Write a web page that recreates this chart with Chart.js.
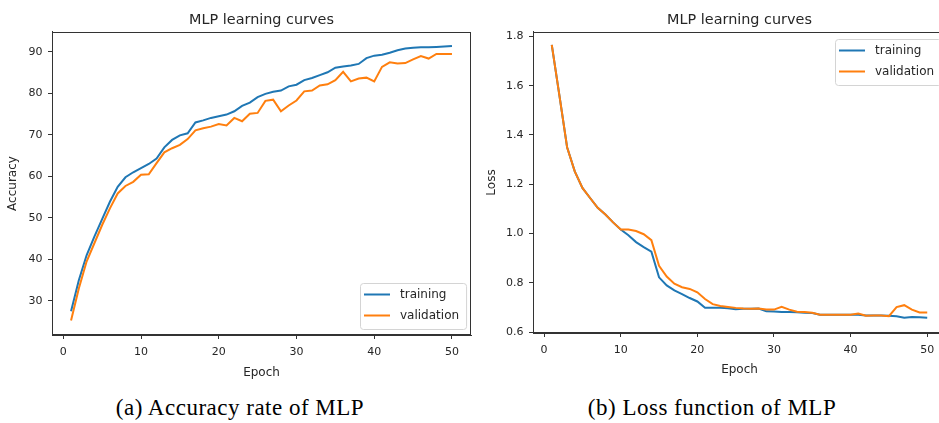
<!DOCTYPE html>
<html>
<head>
<meta charset="utf-8">
<script src="https://cdn.jsdelivr.net/npm/chart.js@4.4.1/dist/chart.umd.min.js"></script>
<style>
  html, body { margin: 0; padding: 0; background: #fff; overflow: hidden; width: 939px; height: 423px; }
  .wrap { position: absolute; top: 0; }
  #accWrap { left: 0; }
  #lossWrap { left: 480px; }
  .caption {
    position: absolute; top: 395px; line-height: 26px;
    font-family: "Liberation Serif", serif; font-size: 23px; letter-spacing: 0.5px;
    color: #000; transform: translateX(-50%); white-space: nowrap;
  }
</style>
</head>
<body>
<div class="wrap" id="accWrap"><canvas id="accChart" width="480" height="390"></canvas></div>
<div class="wrap" id="lossWrap"><canvas id="lossChart" width="476" height="390"></canvas></div>
<div class="caption" style="left:240px">(a) Accuracy rate of MLP</div>
<div class="caption" style="left:712px">(b) Loss function of MLP</div>

<script>
const epochs = [1, 2, 3, 4, 5, 6, 7, 8, 9, 10, 11, 12, 13, 14, 15, 16, 17, 18, 19, 20,
  21, 22, 23, 24, 25, 26, 27, 28, 29, 30, 31, 32, 33, 34, 35, 36, 37, 38, 39, 40,
  41, 42, 43, 44, 45, 46, 47, 48, 49, 50];

const trainAcc = [27.5, 35.0, 41.0, 45.5, 49.7, 53.9, 57.5, 59.8, 61.0, 62.0,
  63.0, 64.3, 67.0, 68.8, 69.9, 70.4, 73.0, 73.5, 74.1, 74.5,
  74.9, 75.7, 77.0, 77.8, 79.1, 79.9, 80.4, 80.7, 81.7, 82.1,
  83.2, 83.7, 84.4, 85.1, 86.2, 86.5, 86.7, 87.1, 88.5, 89.1,
  89.3, 89.8, 90.4, 90.8, 91.0, 91.1, 91.1, 91.2, 91.3, 91.4];
const validAcc = [25.3, 33.0, 39.5, 43.9, 48.3, 52.3, 55.9, 57.7, 58.7, 60.4,
  60.5, 63.2, 65.8, 66.8, 67.6, 69.0, 71.1, 71.6, 72.0, 72.6,
  72.3, 74.1, 73.3, 75.1, 75.3, 78.2, 78.5, 75.7, 77.1, 78.3,
  80.5, 80.7, 81.9, 82.2, 83.2, 85.2, 82.9, 83.6, 83.8, 82.9,
  86.4, 87.5, 87.2, 87.3, 88.2, 89.0, 88.4, 89.5, 89.5, 89.5];

const trainLoss = [1.766, 1.560, 1.350, 1.252, 1.185, 1.144, 1.104, 1.077, 1.045, 1.016,
  0.993, 0.965, 0.945, 0.926, 0.822, 0.789, 0.769, 0.754, 0.738, 0.724,
  0.698, 0.698, 0.698, 0.696, 0.692, 0.694, 0.694, 0.695, 0.684, 0.683,
  0.681, 0.681, 0.680, 0.678, 0.677, 0.670, 0.670, 0.670, 0.670, 0.670,
  0.670, 0.667, 0.667, 0.667, 0.666, 0.664, 0.658, 0.661, 0.660, 0.658];
const validLoss = [1.766, 1.560, 1.350, 1.252, 1.185, 1.144, 1.104, 1.077, 1.045, 1.016,
  1.016, 1.010, 0.997, 0.973, 0.869, 0.825, 0.796, 0.782, 0.775, 0.761,
  0.734, 0.713, 0.706, 0.702, 0.698, 0.695, 0.694, 0.695, 0.691, 0.691,
  0.702, 0.691, 0.682, 0.681, 0.678, 0.670, 0.670, 0.670, 0.670, 0.670,
  0.675, 0.666, 0.667, 0.667, 0.664, 0.701, 0.709, 0.691, 0.679, 0.679];

const epochTicks = [0, 10, 20, 30, 40, 50];
const accTicks = [30, 40, 50, 60, 70, 80, 90];
const lossTicks = [0.6, 0.8, 1.0, 1.2, 1.4, 1.6, 1.8];

const BLUE = "#1f77b4";
const ORANGE = "#ff7f0e";
const INK = "#262626";
const FONT = "DejaVu Sans";

// matplotlib draws spines on all four sides
const frame = {
  id: "frame",
  afterDatasetsDraw(chart) {
    const { ctx, chartArea: a } = chart;
    ctx.save();
    ctx.strokeStyle = "#333";
    ctx.lineWidth = 1;
    ctx.strokeRect(Math.round(a.left) + 0.5, Math.round(a.top) + 0.5,
      Math.round(a.right - a.left) - 1, Math.round(a.bottom - a.top) - 1);
    ctx.restore();
  }
};

// legend box inside the axes, like plt.legend()
const boxLegend = {
  id: "boxLegend",
  afterDraw(chart, args, opts) {
    const { ctx, chartArea: a } = chart;
    const items = chart.data.datasets;
    ctx.save();
    ctx.font = "12px " + FONT;
    const textW = Math.max(...items.map((d) => ctx.measureText(d.label).width));
    const w = 40 + textW + 7;
    const h = 46;
    const x = Math.round(a.right - 5 - w);
    const y = Math.round(opts.corner === "top" ? a.top + 7 : a.bottom - 6.5 - h);
    ctx.beginPath();
    ctx.roundRect(x + 0.5, y + 0.5, w, h, 3);
    ctx.fillStyle = "rgba(255,255,255,0.8)";
    ctx.fill();
    ctx.strokeStyle = "#d4d4d4";
    ctx.lineWidth = 1;
    ctx.stroke();
    items.forEach((d, i) => {
      const cy = y + 11.5 + i * 21;
      ctx.strokeStyle = d.borderColor;
      ctx.lineWidth = 2;
      ctx.beginPath();
      ctx.moveTo(x + 4, cy);
      ctx.lineTo(x + 30, cy);
      ctx.stroke();
      ctx.fillStyle = INK;
      ctx.textBaseline = "middle";
      ctx.fillText(d.label, x + 40, cy);
    });
    ctx.restore();
  }
};

// order: validation (0) is painted last, on top of training, as in matplotlib
const series = (vals, label, color, order) => ({
  label: label,
  data: vals.map((v, i) => ({ x: epochs[i], y: v })),
  borderColor: color,
  backgroundColor: color,
  borderWidth: 2,
  pointRadius: 0,
  tension: 0,
  fill: false,
  order: order
});

function makeChart(canvasId, cfg) {
  const tickFont = { family: FONT, size: 11 };
  return new Chart(document.getElementById(canvasId), {
    type: "line",
    data: {
      datasets: [
        series(cfg.train, "training", BLUE, 1),
        series(cfg.valid, "validation", ORANGE, 0)
      ]
    },
    options: {
      responsive: false,
      animation: false,
      layout: { padding: { top: 0, left: 0, right: cfg.padRight, bottom: cfg.padBottom } },
      plugins: {
        legend: { display: false },
        tooltip: { enabled: false },
        title: {
          display: true,
          text: "MLP learning curves",
          fullSize: false,
          color: INK,
          font: { family: FONT, size: 14.4, weight: "normal" },
          padding: { top: 11.4, bottom: 3.3 }
        },
        boxLegend: { corner: cfg.legendCorner }
      },
      scales: {
        x: {
          type: "linear",
          min: -1.45,
          max: 52.45,
          afterBuildTicks: (s) => { s.ticks = epochTicks.map((v) => ({ value: v })); },
          afterFit: (s) => { s.height = 50; },
          grid: { drawOnChartArea: false, drawTicks: true, tickLength: 4, color: "#333" },
          border: { display: true, color: "#333" },
          ticks: { font: tickFont, color: INK, padding: 6.5, maxRotation: 0, autoSkip: false },
          title: {
            display: true, text: "Epoch", color: INK,
            font: { family: FONT, size: 12 },
            padding: { top: 0, bottom: cfg.xTitlePad }
          }
        },
        y: {
          type: "linear",
          min: cfg.yMin,
          max: cfg.yMax,
          afterBuildTicks: (s) => { s.ticks = cfg.yTicks.map((v) => ({ value: v })); },
          afterFit: (s) => { s.width = cfg.yWidth; },
          grid: { drawOnChartArea: false, drawTicks: true, tickLength: 4, color: "#333" },
          border: { display: true, color: "#333" },
          ticks: { font: tickFont, color: INK, padding: 5.5, autoSkip: false, callback: cfg.yFmt },
          title: {
            display: true, text: cfg.yLabel, color: INK,
            font: { family: FONT, size: 12 },
            padding: { top: cfg.yTitlePad, bottom: 0 }
          }
        }
      }
    },
    plugins: [frame, boxLegend]
  });
}

makeChart("accChart", {
  train: trainAcc, valid: validAcc,
  yMin: 21.8, yMax: 94.8, yTicks: accTicks, yLabel: "Accuracy",
  yFmt: (v) => String(v),
  yWidth: 52, yTitlePad: 6, xTitlePad: 4.8,
  padRight: 9, padBottom: 5, legendCorner: "bottom"
});

makeChart("lossChart", {
  train: trainLoss, valid: validLoss,
  yMin: 0.596, yMax: 1.818, yTicks: lossTicks, yLabel: "Loss",
  yFmt: (v) => v.toFixed(1),
  yWidth: 53, yTitlePad: 4.5, xTitlePad: 5.8,
  padRight: 10, padBottom: 7, legendCorner: "top"
});
</script>
</body>
</html>
